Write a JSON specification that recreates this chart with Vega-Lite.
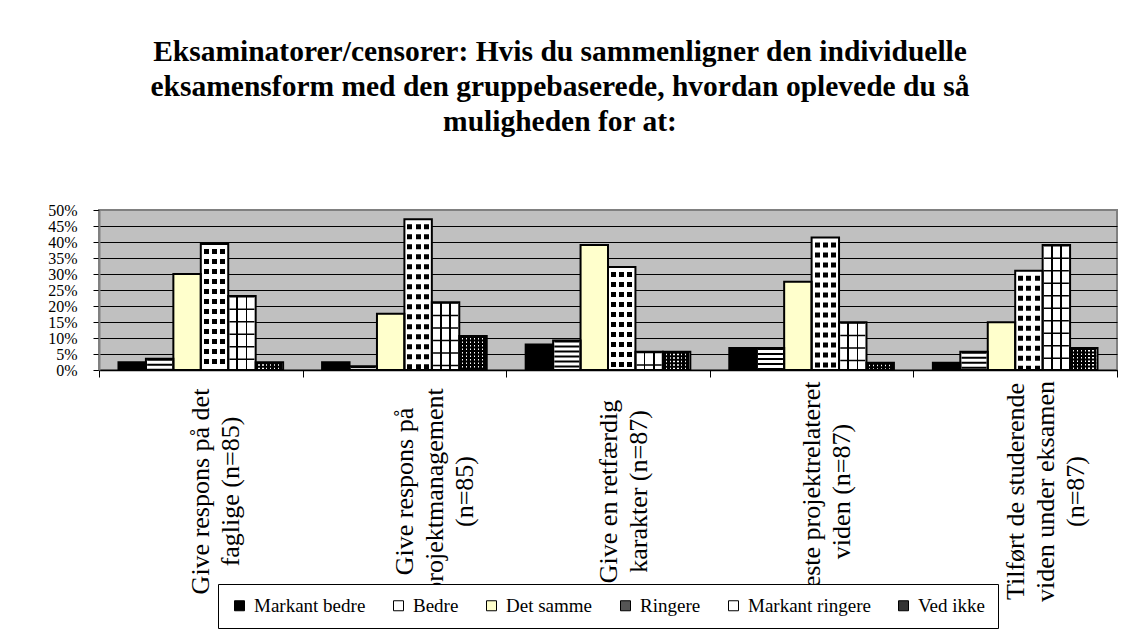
{
  "$schema": "https://vega.github.io/schema/vega-lite/v6.json",
  "width": 1018,
  "height": 160,
  "autosize": {"type": "none"},
  "padding": {"left": 99, "top": 210, "right": 17, "bottom": 267},
  "background": "white",
  "title": {
    "text": ["Eksaminatorer/censorer: Hvis du sammenligner den individuelle", "eksamensform med den gruppebaserede, hvordan oplevede du så", "muligheden for at:"],
    "font": "Liberation Serif",
    "fontSize": 29.5,
    "fontWeight": "bold",
    "lineHeight": 35,
    "color": "black",
    "anchor": "middle",
    "frame": "group",
    "offset": 65,
    "dx": -48
  },
  "data": {
    "values": [
      {"q": "Give respons på det|faglige (n=85)", "s": "Markant bedre", "v": 0.024},
      {"q": "Give respons på det|faglige (n=85)", "s": "Bedre", "v": 0.035},
      {"q": "Give respons på det|faglige (n=85)", "s": "Det samme", "v": 0.300},
      {"q": "Give respons på det|faglige (n=85)", "s": "Ringere", "v": 0.394},
      {"q": "Give respons på det|faglige (n=85)", "s": "Markant ringere", "v": 0.231},
      {"q": "Give respons på det|faglige (n=85)", "s": "Ved ikke", "v": 0.024},
      {"q": "Give respons på|projektmanagement|(n=85)", "s": "Markant bedre", "v": 0.024},
      {"q": "Give respons på|projektmanagement|(n=85)", "s": "Bedre", "v": 0.012},
      {"q": "Give respons på|projektmanagement|(n=85)", "s": "Det samme", "v": 0.176},
      {"q": "Give respons på|projektmanagement|(n=85)", "s": "Ringere", "v": 0.471},
      {"q": "Give respons på|projektmanagement|(n=85)", "s": "Markant ringere", "v": 0.212},
      {"q": "Give respons på|projektmanagement|(n=85)", "s": "Ved ikke", "v": 0.106},
      {"q": "Give en retfærdig|karakter (n=87)", "s": "Markant bedre", "v": 0.080},
      {"q": "Give en retfærdig|karakter (n=87)", "s": "Bedre", "v": 0.092},
      {"q": "Give en retfærdig|karakter (n=87)", "s": "Det samme", "v": 0.391},
      {"q": "Give en retfærdig|karakter (n=87)", "s": "Ringere", "v": 0.322},
      {"q": "Give en retfærdig|karakter (n=87)", "s": "Markant ringere", "v": 0.057},
      {"q": "Give en retfærdig|karakter (n=87)", "s": "Ved ikke", "v": 0.057},
      {"q": "Teste projektrelateret|viden (n=87)", "s": "Markant bedre", "v": 0.069},
      {"q": "Teste projektrelateret|viden (n=87)", "s": "Bedre", "v": 0.069},
      {"q": "Teste projektrelateret|viden (n=87)", "s": "Det samme", "v": 0.276},
      {"q": "Teste projektrelateret|viden (n=87)", "s": "Ringere", "v": 0.414},
      {"q": "Teste projektrelateret|viden (n=87)", "s": "Markant ringere", "v": 0.149},
      {"q": "Teste projektrelateret|viden (n=87)", "s": "Ved ikke", "v": 0.023},
      {"q": "Tilført de studerende|viden under eksamen|(n=87)", "s": "Markant bedre", "v": 0.023},
      {"q": "Tilført de studerende|viden under eksamen|(n=87)", "s": "Bedre", "v": 0.057},
      {"q": "Tilført de studerende|viden under eksamen|(n=87)", "s": "Det samme", "v": 0.149},
      {"q": "Tilført de studerende|viden under eksamen|(n=87)", "s": "Ringere", "v": 0.310},
      {"q": "Tilført de studerende|viden under eksamen|(n=87)", "s": "Markant ringere", "v": 0.391},
      {"q": "Tilført de studerende|viden under eksamen|(n=87)", "s": "Ved ikke", "v": 0.069}
    ]
  },
  "config": {
    "view": {"fill": "#C0C0C0", "stroke": "#808080", "strokeWidth": 2},
    "font": "Liberation Serif"
  },
  "encoding": {
    "x": {
      "field": "q",
      "type": "nominal",
      "sort": null,
      "scale": {
        "domain": ["Give respons på det|faglige (n=85)", "Give respons på|projektmanagement|(n=85)", "Give en retfærdig|karakter (n=87)", "Teste projektrelateret|viden (n=87)", "Tilført de studerende|viden under eksamen|(n=87)"],
        "paddingInner": 0,
        "paddingOuter": 0
      },
      "axis": {
        "title": null,
        "labelAngle": -90,
        "labelAlign": "center",
        "labelBaseline": "middle",
        "labelPadding": 114,
        "labelFontSize": 26,
        "labelLineHeight": 30,
        "labelFont": "Liberation Serif",
        "labelColor": "black",
        "labelExpr": "split(datum.label, '|')",
        "labelLimit": 0,
        "labelOverlap": false,
        "tickBand": "extent",
        "tickSize": 7,
        "tickColor": "black",
        "domainColor": "black",
        "domainWidth": 1.5,
        "grid": false
      }
    },
    "xOffset": {
      "field": "s",
      "type": "nominal",
      "scale": {
        "domain": ["Markant bedre", "Bedre", "Det samme", "Ringere", "Markant ringere", "Ved ikke"],
        "paddingInner": 0,
        "paddingOuter": 0.71
      }
    },
    "y": {
      "field": "v",
      "type": "quantitative",
      "scale": {"domain": [0, 0.5], "nice": false},
      "axis": {
        "title": null,
        "values": [0, 0.05, 0.1, 0.15, 0.2, 0.25, 0.3, 0.35, 0.4, 0.45, 0.5],
        "format": ".0%",
        "labelFont": "Liberation Serif",
        "labelFontSize": 16,
        "labelColor": "black",
        "labelPadding": 16,
        "labelOverlap": false,
        "labelBaseline": "middle",
        "tickSize": 6,
        "tickColor": "black",
        "domainColor": "#808080",
        "domainWidth": 2,
        "grid": true,
        "gridColor": {"condition": {"test": "datum.value >= 0.5", "value": "#808080"}, "value": "black"},
        "gridWidth": 1
      }
    }
  },
  "layer": [
    {
      "mark": {"type": "bar"},
      "encoding": {
        "color": {
          "field": "s",
          "type": "nominal",
          "scale": {
            "domain": ["Markant bedre", "Bedre", "Det samme", "Ringere", "Markant ringere", "Ved ikke"],
            "range": ["#000000", "#ffffff", "#FFFFCC", "#555555", "#ffffff", "#333333"]
          },
          "legend": {
            "orient": "none",
            "legendX": 119,
            "legendY": 374,
            "direction": "horizontal",
            "title": null,
            "fillColor": "white",
            "strokeColor": "black",
            "padding": 12,
            "labelFont": "Liberation Serif",
            "labelFontSize": 19,
            "labelColor": "black",
            "symbolType": "square",
            "symbolSize": 100,
            "symbolStrokeColor": "black",
            "symbolStrokeWidth": 1,
            "columnPadding": 23,
            "labelOffset": 5
          }
        }
      }
    },
    {
      "transform": [{"filter": "datum.s === 'Ringere'"}],
      "mark": {"type": "bar", "fill": {"gradient": "linear", "x1": 0, "y1": 0, "x2": 1, "y2": 0, "stops": [
                {"offset": 0, "color": "white"}, {"offset": 0.11, "color": "white"}, {"offset": 0.11, "color": "black"},
                {"offset": 0.29, "color": "black"}, {"offset": 0.29, "color": "white"}, {"offset": 0.41, "color": "white"},
                {"offset": 0.41, "color": "black"}, {"offset": 0.59, "color": "black"}, {"offset": 0.59, "color": "white"},
                {"offset": 0.71, "color": "white"}, {"offset": 0.71, "color": "black"}, {"offset": 0.89, "color": "black"},
                {"offset": 0.89, "color": "white"}, {"offset": 1, "color": "white"}]}}
    },
    {
      "transform": [{"filter": "datum.s === 'Markant ringere'"}],
      "mark": {"type": "bar", "fill": {"gradient": "linear", "x1": 0, "y1": 0, "x2": 1, "y2": 0, "stops": [
                {"offset": 0, "color": "white"}, {"offset": 0.3, "color": "white"}, {"offset": 0.3, "color": "black"},
                {"offset": 0.36, "color": "black"}, {"offset": 0.36, "color": "white"}, {"offset": 0.64, "color": "white"},
                {"offset": 0.64, "color": "black"}, {"offset": 0.7, "color": "black"}, {"offset": 0.7, "color": "white"},
                {"offset": 1, "color": "white"}]}}
    },
    {
      "transform": [{"filter": "datum.s === 'Ved ikke'"}],
      "mark": {"type": "bar", "fill": {"gradient": "linear", "x1": 0, "y1": 0, "x2": 1, "y2": 0, "stops": [
                {"offset": 0, "color": "black"}, {"offset": 0.1, "color": "black"}, {"offset": 0.1, "color": "white"},
                {"offset": 0.143, "color": "white"}, {"offset": 0.143, "color": "black"}, {"offset": 0.243, "color": "black"},
                {"offset": 0.243, "color": "white"}, {"offset": 0.286, "color": "white"}, {"offset": 0.286, "color": "black"},
                {"offset": 0.386, "color": "black"}, {"offset": 0.386, "color": "white"}, {"offset": 0.429, "color": "white"},
                {"offset": 0.429, "color": "black"}, {"offset": 0.529, "color": "black"}, {"offset": 0.529, "color": "white"},
                {"offset": 0.571, "color": "white"}, {"offset": 0.571, "color": "black"}, {"offset": 0.671, "color": "black"},
                {"offset": 0.671, "color": "white"}, {"offset": 0.714, "color": "white"}, {"offset": 0.714, "color": "black"},
                {"offset": 0.814, "color": "black"}, {"offset": 0.814, "color": "white"}, {"offset": 0.857, "color": "white"},
                {"offset": 0.857, "color": "black"}, {"offset": 0.957, "color": "black"}, {"offset": 0.957, "color": "white"},
                {"offset": 1, "color": "white"}]}}
    },
    {
      "transform": [{"filter": "datum.s === 'Bedre'"}],
      "mark": {"type": "rule", "color": "black", "strokeWidth": 25, "strokeDash": [2, 3], "strokeCap": "butt"},
      "encoding": {"y2": {"datum": 0}}
    },
    {
      "transform": [{"filter": "datum.s === 'Ringere'"}],
      "mark": {"type": "rule", "color": "white", "strokeWidth": 25, "strokeDash": [5, 5], "strokeCap": "butt"},
      "encoding": {"y2": {"datum": 0}}
    },
    {
      "transform": [{"filter": "datum.s === 'Markant ringere'"}],
      "mark": {"type": "rule", "color": "black", "strokeWidth": 25, "strokeDash": [1.5, 11], "strokeCap": "butt"},
      "encoding": {"y2": {"datum": 0}}
    },
    {
      "transform": [{"filter": "datum.s === 'Ved ikke'"}],
      "mark": {"type": "rule", "color": "black", "strokeWidth": 25, "strokeDash": [2, 1.5], "strokeCap": "butt"},
      "encoding": {"y2": {"datum": 0}}
    },
    {
      "mark": {"type": "bar", "fillOpacity": 0, "stroke": "black", "strokeWidth": 2}
    }
  ]
}
